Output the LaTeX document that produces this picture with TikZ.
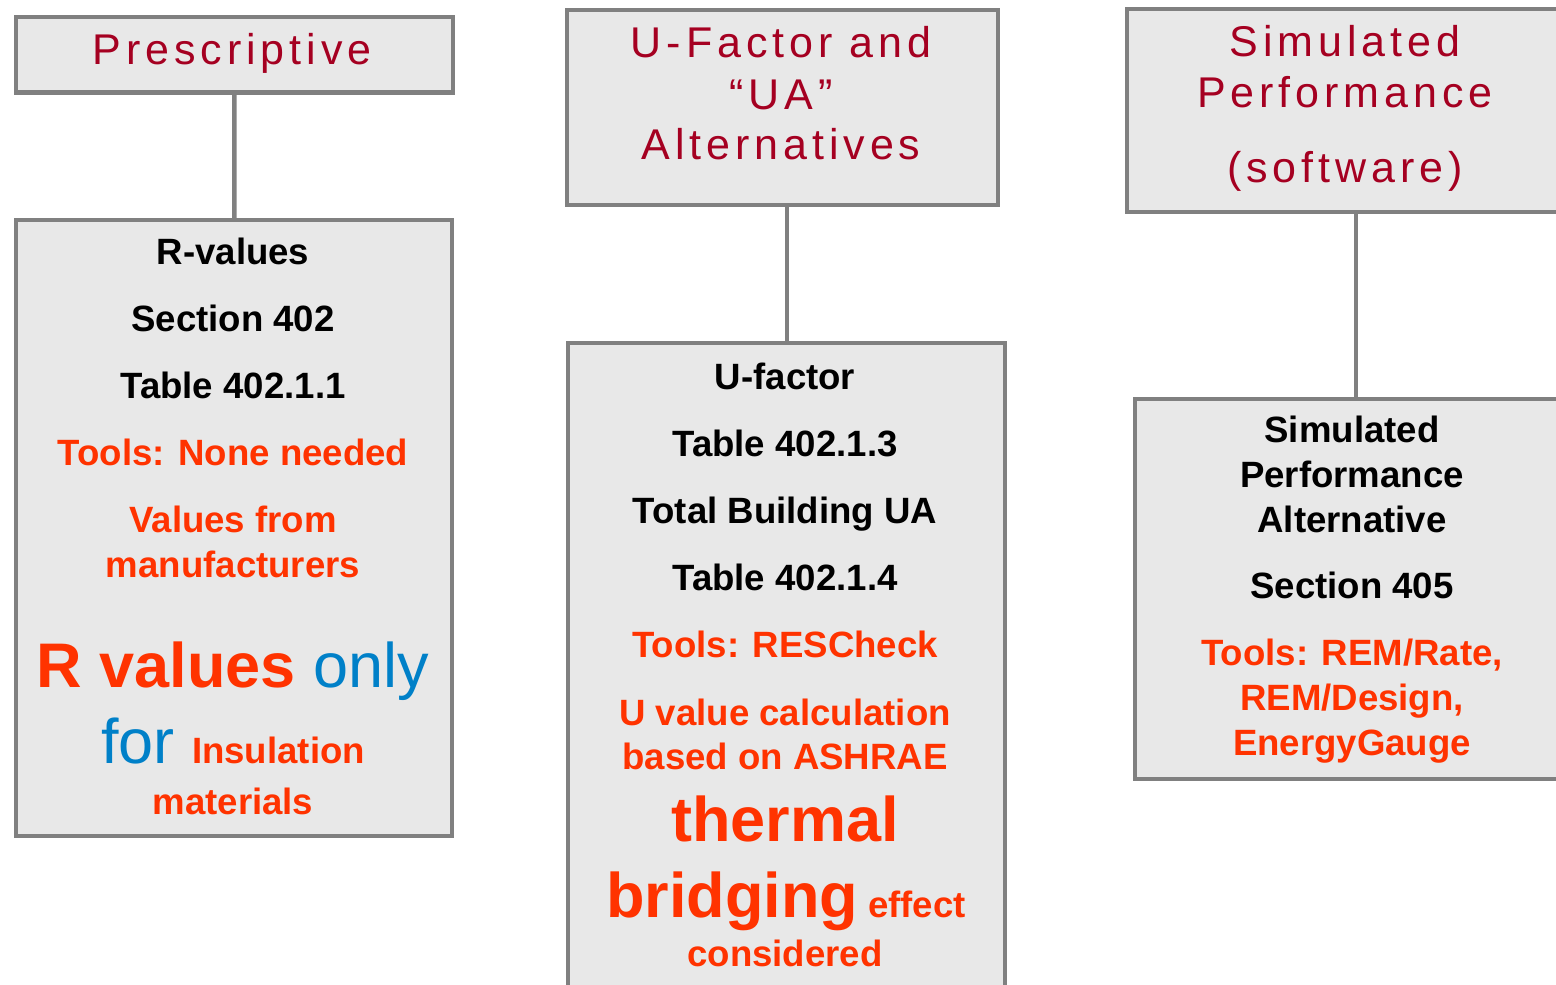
\documentclass[tikz,border=0pt]{standalone}
\usepackage{fontspec}
\setmainfont{Liberation Sans}
\newfontfamily\headfont[LetterSpace=11.5]{Liberation Sans}
\usetikzlibrary{positioning}
\definecolor{headred}{RGB}{165,0,33}
\definecolor{toolred}{RGB}{255,51,0}
\definecolor{onlyblue}{RGB}{0,128,200}
\definecolor{boxgray}{RGB}{232,232,232}
\definecolor{linegray}{RGB}{128,128,128}

\begin{document}
\begin{tikzpicture}[x=0.5pt, y=-0.5pt, line width=2.2pt,
  main/.style = {draw=linegray, fill=boxgray, rectangle, anchor=north west, inner sep=0pt},
  head/.style = {anchor=base, text=headred, font=\headfont\fontsize{21.5}{25}\selectfont},
  item/.style = {anchor=base, font=\bfseries\fontsize{18.3}{22}\selectfont},
  tool/.style = {item, text=toolred},
  big/.style = {anchor=base, font=\fontsize{31.5}{36}\selectfont}]
 			\useasboundingbox (0,0) rectangle (1556,984);
 			\clip (0,0) rectangle (1556,984);

 			% boxes
 			\node[main, minimum width=218.25pt, minimum height=37.75pt] (h1) at (14,15) {};
 			\node[main, minimum width=218pt, minimum height=308pt] (b1) at (14,218) {};
 			\node[main, minimum width=215.5pt, minimum height=97.5pt] (h2) at (565,8) {};
 			\node[main, minimum width=218.5pt, minimum height=330pt] (b2) at (566,341) {};
 			\node[main, minimum width=220pt, minimum height=101.5pt] (h3) at (1125,7) {};
 			\node[main, minimum width=221pt, minimum height=190pt] (b3) at (1133,397) {};

 			\draw[linegray] (h1) -- (b1);
 			\draw[linegray] (b2.north) -- (b2.north |- h2.south);
 			\draw[linegray] (b3.north) -- (b3.north |- h3.south);

 			% headings
 			\node[head] (h1a) at (232,65) {Prescriptive};
 			\node[head] (h2a) at (781,58) {U-Factor and};
 			\node[head] (h2b) at (781,110) {“UA”};
 			\node[head] (h2c) at (781,160) {Alternatives};
 			\node[head] (h3a) at (1345,57) {Simulated};
 			\node[head] (h3b) at (1345,108) {Performance};
 			\node[head] (h3c) at (1345,183) {(software)};

 			% prescriptive
 			\node[item] (b1a) at (233,264) {R-values};
 			\node[item] (b1b) at (233,331) {Section 402};
 			\node[item] (b1c) at (233,398) {Table 402.1.1};
 			\node[tool] (b1d) at (233,465) {Tools: None needed};
 			\node[tool] (b1e) at (233,532) {Values from};
 			\node[tool] (b1f) at (233,577) {manufacturers};
 			\node[big] (b1g) at (233,687) {\bfseries\color{toolred}R values \mdseries\color{onlyblue}only};
 			\node[big] (b1h) at (233,763) {\color{onlyblue}for \bfseries\color{toolred}\fontsize{18.3}{22}\selectfont Insulation};
 			\node[tool] (b1i) at (233,814) {materials};

 			% U-factor
 			\node[item] (b2a) at (785,389) {U-factor};
 			\node[item] (b2b) at (785,456) {Table 402.1.3};
 			\node[item] (b2c) at (785,523) {Total Building UA};
 			\node[item] (b2d) at (785,590) {Table 402.1.4};
 			\node[tool] (b2e) at (785,657) {Tools: RESCheck};
 			\node[tool] (b2f) at (785,725) {U value calculation};
 			\node[tool] (b2g) at (785,769) {based on ASHRAE};
 			\node[big, text=toolred] (b2h) at (785,841) {\bfseries thermal};
 			\node[big, text=toolred] (b2i) at (786,917) {\bfseries bridging\fontsize{18.3}{22}\selectfont{} effect};
 			\node[tool] (b2j) at (785,966) {considered};

 			% simulated
 			\node[item] (b3a) at (1352,442) {Simulated};
 			\node[item] (b3b) at (1352,487) {Performance};
 			\node[item] (b3c) at (1352,532) {Alternative};
 			\node[item] (b3d) at (1352,598) {Section 405};
 			\node[tool] (b3e) at (1352,665) {Tools: REM/Rate,};
 			\node[tool] (b3f) at (1352,710) {REM/Design,};
 			\node[tool] (b3g) at (1352,755) {EnergyGauge};
 		\end{tikzpicture}
\end{document}
